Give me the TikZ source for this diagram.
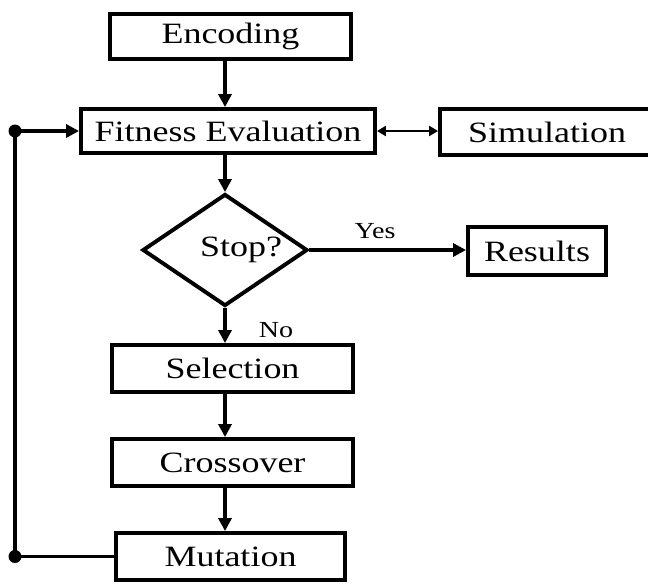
\documentclass[tikz,border=0pt]{standalone}
\usepackage{fontspec}
\setmainfont{Liberation Serif}
\usetikzlibrary{shapes.geometric,arrows.meta}
\newcommand\wideT[1]{\scalebox{1.22}[1]{#1}}
\begin{document}
\begin{tikzpicture}[x=1pt,y=-1pt,
  box/.style={draw=black,line width=3.9pt,rectangle,inner sep=0pt,fill=white,
    font=\fontsize{29.5}{32}\selectfont},
  decision/.style={draw=black,line width=3.9pt,diamond,inner sep=0pt,
    minimum width=165pt,minimum height=112pt},
  conn/.style={draw=black,line width=3.8pt},
  arr/.style={conn,-{Triangle[length=13pt,width=13pt]}},
  darr/.style={draw=black,line width=2.4pt,{Triangle[length=9pt,width=10pt]}-{Triangle[length=9pt,width=10pt]}},
  lbl/.style={font=\fontsize{29.5}{32}\selectfont,inner sep=0pt},
  small/.style={font=\fontsize{23}{26}\selectfont,inner sep=0pt},
  dot/.style={circle,fill=black,inner sep=0pt,minimum size=13pt}
]
\useasboundingbox (0,0) rectangle (648,584);
\fill[white] (0,0) rectangle (648,584);

\node[box,minimum width=241pt,minimum height=45pt] (enc) at (230.5,36.5) {\wideT{Encoding}};
\node[box,minimum width=294pt,minimum height=44pt] (fit) at (228,131) {\wideT{Fitness Evaluation}};
\node[box,minimum width=214pt,minimum height=46pt] (sim) at (547,132) {\wideT{Simulation}};
\node[decision] (st) at (225,250) {};
\node[lbl] (sttext) at (241,250) {\wideT{Stop?}};
\node[box,minimum width=138pt,minimum height=48pt] (res) at (537,251) {\wideT{Results}};
\node[box,minimum width=241pt,minimum height=47pt] (sel) at (232.5,368.5) {\wideT{Selection}};
\node[box,minimum width=241pt,minimum height=47pt] (cro) at (232.5,462.5) {\wideT{Crossover}};
\node[box,minimum width=229pt,minimum height=47pt] (mut) at (230.5,556.5) {\wideT{Mutation}};

\node[small] (yes) at (375,231) {\wideT{Yes}};
\node[small] (no) at (276,330) {\wideT{No}};

\coordinate (lx) at (15,0);
\node[dot] (d1) at (fit.west -| lx) {};
\node[dot] (d2) at (mut.west -| lx) {};

\draw[arr] (enc.south -| st.north) -- (fit.north -| st.north);
\draw[darr] (fit.east) -- (sim.west |- fit.east);
\draw[arr] (fit.south -| st.north) -- (st.north);
\draw[arr] (st.east) -- (st.east -| res.west);
\draw[arr] (st.south) -- (sel.north -| st.south);
\draw[arr] (sel.south -| st.south) -- (cro.north -| st.south);
\draw[arr] (cro.south -| st.south) -- (mut.north -| st.south);
\draw[conn] (mut.west) -- (d2.center) -- (d1.center);
\draw[arr] (d1.center) -- (fit.west);
\end{tikzpicture}
\end{document}
